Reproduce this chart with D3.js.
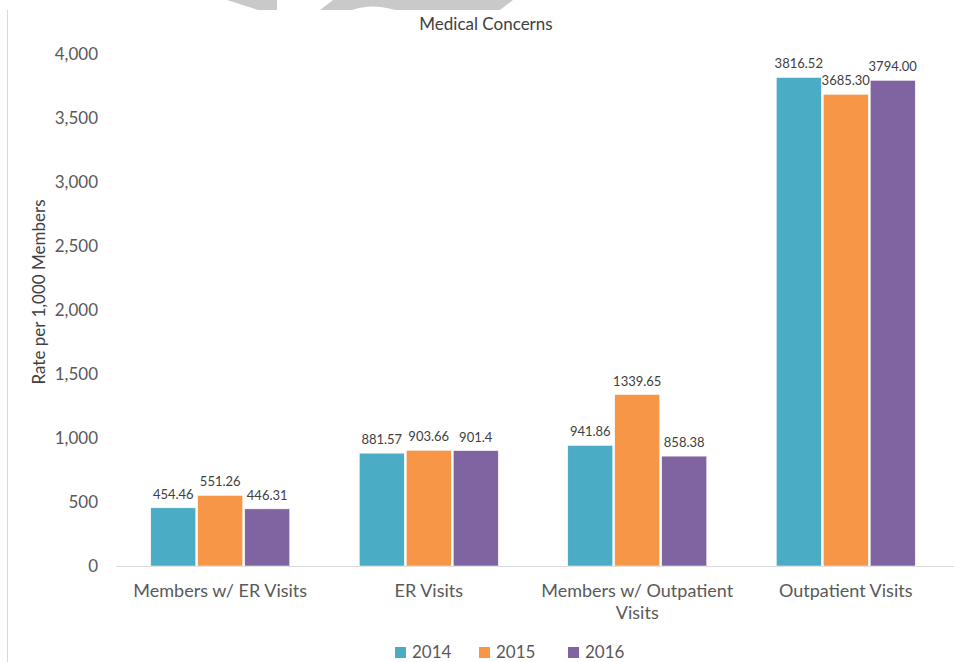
<!DOCTYPE html>
<html><head><meta charset="utf-8">
<script src="https://cdn.jsdelivr.net/npm/d3@7"></script>
<style>html,body{margin:0;padding:0;background:#fff;}svg{display:block;font-family:Lato,"Open Sans",sans-serif;}</style>
</head><body><svg id="c" width="954" height="662"></svg>
<script>
const categories = [["Members w/ ER Visits"], ["ER Visits"], ["Members w/ Outpatient", "Visits"], ["Outpatient Visits"]];
const series = ["2014", "2015", "2016"];
const values2014 = [454.46, 881.57, 941.86, 3816.52];
const values2015 = [551.26, 903.66, 1339.65, 3685.30];
const values2016 = [446.31, 901.4, 858.38, 3794.00];
const labels2014 = ["454.46", "881.57", "941.86", "3816.52"];
const labels2015 = ["551.26", "903.66", "1339.65", "3685.30"];
const labels2016 = ["446.31", "901.4", "858.38", "3794.00"];
const yTicks = [0, 500, 1000, 1500, 2000, 2500, 3000, 3500, 4000];
const colors = ["#4BACC6", "#F79646", "#8064A2"];
const title = "Medical Concerns";
const yTitle = "Rate per 1,000 Members";

const svg = d3.select("#c");
// decorative watermark shapes at top
svg.append("path").attr("d","M227,0 L277,0 L277,10 L258,10 Z").attr("fill","#c9c9c9");
svg.append("path").attr("d","M333,0 L513,0 L500,10 L395,10 Q372,3 352,10 L320,10 Z").attr("fill","#c9c9c9");
// left border line
svg.append("line").attr("x1",7.5).attr("x2",7.5).attr("y1",10).attr("y2",662).attr("stroke","#d9d9d9");

const idx = d3.range(categories.length);
const x0 = d3.scaleBand().domain(idx).range([116, 950]);
const gw = x0.bandwidth() * 0.676;
const x1 = d3.scaleBand().domain(series).range([(x0.bandwidth()-gw)/2, (x0.bandwidth()+gw)/2]);
const y = d3.scaleLinear().domain([0, 4000]).range([566, 54]);

const fmt = d3.format(",");
const yAxis = d3.axisLeft(y).tickValues(yTicks).tickFormat(fmt).tickSize(0).tickPadding(0);
const gy = svg.append("g").attr("transform","translate(98,0)").call(yAxis);
gy.select(".domain").remove();
gy.selectAll("text").attr("fill","#595959").style("font-size","17px").style("font-family","Lato");

// x axis line
svg.append("line").attr("x1",116).attr("x2",954).attr("y1",566.5).attr("y2",566.5).attr("stroke","#d9d9d9");

const data = [values2014, values2015, values2016];
const lbls = [labels2014, labels2015, labels2016];
series.forEach((s, si) => {
  const g = svg.append("g");
  g.selectAll("rect").data(idx).join("rect")
    .attr("x", i => x0(i) + x1(s) + 1)
    .attr("width", x1.bandwidth() - 2)
    .attr("y", i => y(data[si][i]))
    .attr("height", i => y(0) - y(data[si][i]))
    .attr("fill", colors[si])
    .attr("stroke", "#fff").attr("stroke-width", 0.5);
  g.selectAll("text").data(idx).join("text")
    .attr("x", i => x0(i) + x1(s) + x1.bandwidth()/2)
    .attr("y", i => y(data[si][i]) - 9)
    .attr("text-anchor","middle")
    .attr("fill","#404040").style("font-size","13px")
    .text(i => lbls[si][i]);
});

// category labels
idx.forEach(i => {
  const t = svg.append("text").attr("text-anchor","middle").attr("fill","#595959").style("font-size","18px")
    .attr("x", x0(i) + x0.bandwidth()/2).attr("y", 597);
  categories[i].forEach((line, li) => {
    t.append("tspan").attr("x", x0(i) + x0.bandwidth()/2).attr("dy", li === 0 ? 0 : 22).text(line);
  });
});

// title
svg.append("text").attr("x",486).attr("y",30).attr("text-anchor","middle").attr("fill","#404040").style("font-size","17px").text(title);
// y title
svg.append("text").attr("transform","translate(45,292) rotate(-90)").attr("text-anchor","middle").attr("fill","#404040").style("font-size","17px").text(yTitle);

// legend
const lx = [395, 479, 568];
series.forEach((s, si) => {
  svg.append("rect").attr("x", lx[si]).attr("y", 647).attr("width", 11).attr("height", 11).attr("fill", colors[si]);
  svg.append("text").attr("x", lx[si] + 17).attr("y", 658).attr("fill","#595959").style("font-size","17px").text(s);
});
</script></body></html>
